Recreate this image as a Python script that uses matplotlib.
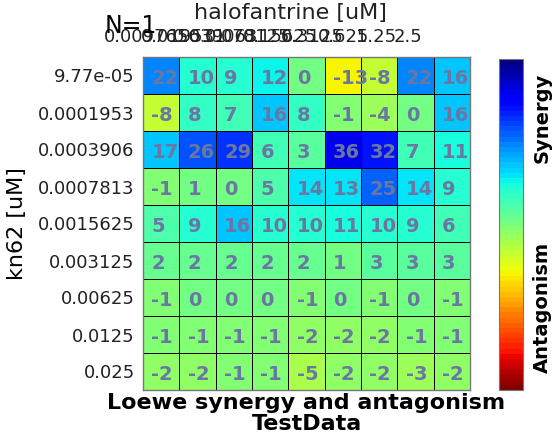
import numpy as np
import matplotlib
matplotlib.use('Agg')
import matplotlib.pyplot as plt
from matplotlib.colors import ListedColormap

# halofantrine concentrations (columns) and kn62 concentrations (rows)
col_labels = ['0.0097656', '0.019531', '0.039063', '0.078125', '0.15625',
              '0.3125', '0.625', '1.25', '2.5']
row_labels = ['9.77e-05', '0.0001953', '0.0003906', '0.0007813', '0.0015625',
              '0.003125', '0.00625', '0.0125', '0.025']

synergy = np.array([
    [22, 10, 9, 12, 0, -13, -8, 22, 16],
    [-8, 8, 7, 16, 8, -1, -4, 0, 16],
    [17, 26, 29, 6, 3, 36, 32, 7, 11],
    [-1, 1, 0, 5, 14, 13, 25, 14, 9],
    [5, 9, 16, 10, 10, 11, 10, 9, 6],
    [2, 2, 2, 2, 2, 1, 3, 3, 3],
    [-1, 0, 0, 0, -1, 0, -1, 0, -1],
    [-1, -1, -1, -1, -2, -2, -2, -1, -1],
    [-2, -2, -1, -1, -5, -2, -2, -3, -2],
])

W, H = 553, 437
fig = plt.figure(figsize=(W / 100, H / 100), dpi=100)

# matlab-like 64 level jet, reversed so synergy is blue
cmap = ListedColormap(plt.get_cmap('jet')(np.linspace(0, 1, 64))[::-1])

ax = fig.add_axes([143 / W, 1 - 390 / H, 327 / W, 333 / H])
nr, nc = synergy.shape
mesh = ax.pcolormesh(np.arange(nc + 1) - 0.5, np.arange(nr + 1) - 0.5, synergy,
                     cmap=cmap, vmin=-46, vmax=46, edgecolors='black', linewidth=0.7)
ax.set_xlim(-0.5, nc - 0.5)
ax.set_ylim(nr - 0.5, -0.5)

for i in range(nr):
    for j in range(nc):
        ax.text(j - 0.27, i + 0.08, str(synergy[i, j]), ha='left', va='center',
                fontsize=14, fontweight='bold', color='#6b77a3')

ax.set_yticks(np.arange(nr))
ax.set_yticklabels(row_labels, fontsize=13, color='#222222')
# top labels are squeezed in the original, so they sit closer together than the cells
ax.set_xticks(-0.25 + 0.88 * np.arange(nc))
ax.set_xticklabels(col_labels, fontsize=13, color='#222222')
ax.xaxis.tick_top()
ax.tick_params(axis='both', length=0)
ax.tick_params(axis='y', pad=6)
ax.tick_params(axis='x', pad=8)
for s in ax.spines.values():
    s.set_color('#777777')
    s.set_linewidth(1)

ax.set_ylabel('kn62 [uM]', fontsize=16, labelpad=8)
ax.set_xlabel('Loewe synergy and antagonism\nTestData', fontsize=16,
              fontweight='bold', linespacing=1.08, labelpad=2)

fig.text(290 / W, 1 - 13 / H, 'halofantrine [uM]', fontsize=16, ha='center',
         va='center', color='#222222')
fig.text(105 / W, 1 - 33 / H, 'N=1', fontsize=17, ha='left', va='baseline')

cax = fig.add_axes([499 / W, 1 - 390 / H, 24 / W, 331 / H])
cb = fig.colorbar(mesh, cax=cax)
cb.set_ticks([])
cb.outline.set_edgecolor('#777777')
fig.text(542 / W, 1 - 118 / H, 'Synergy', rotation=90, fontsize=14,
         fontweight='bold', ha='center', va='center')
fig.text(542 / W, 1 - 307 / H, 'Antagonism', rotation=90, fontsize=14,
         fontweight='bold', ha='center', va='center')

fig.savefig('out.png', dpi=100)
